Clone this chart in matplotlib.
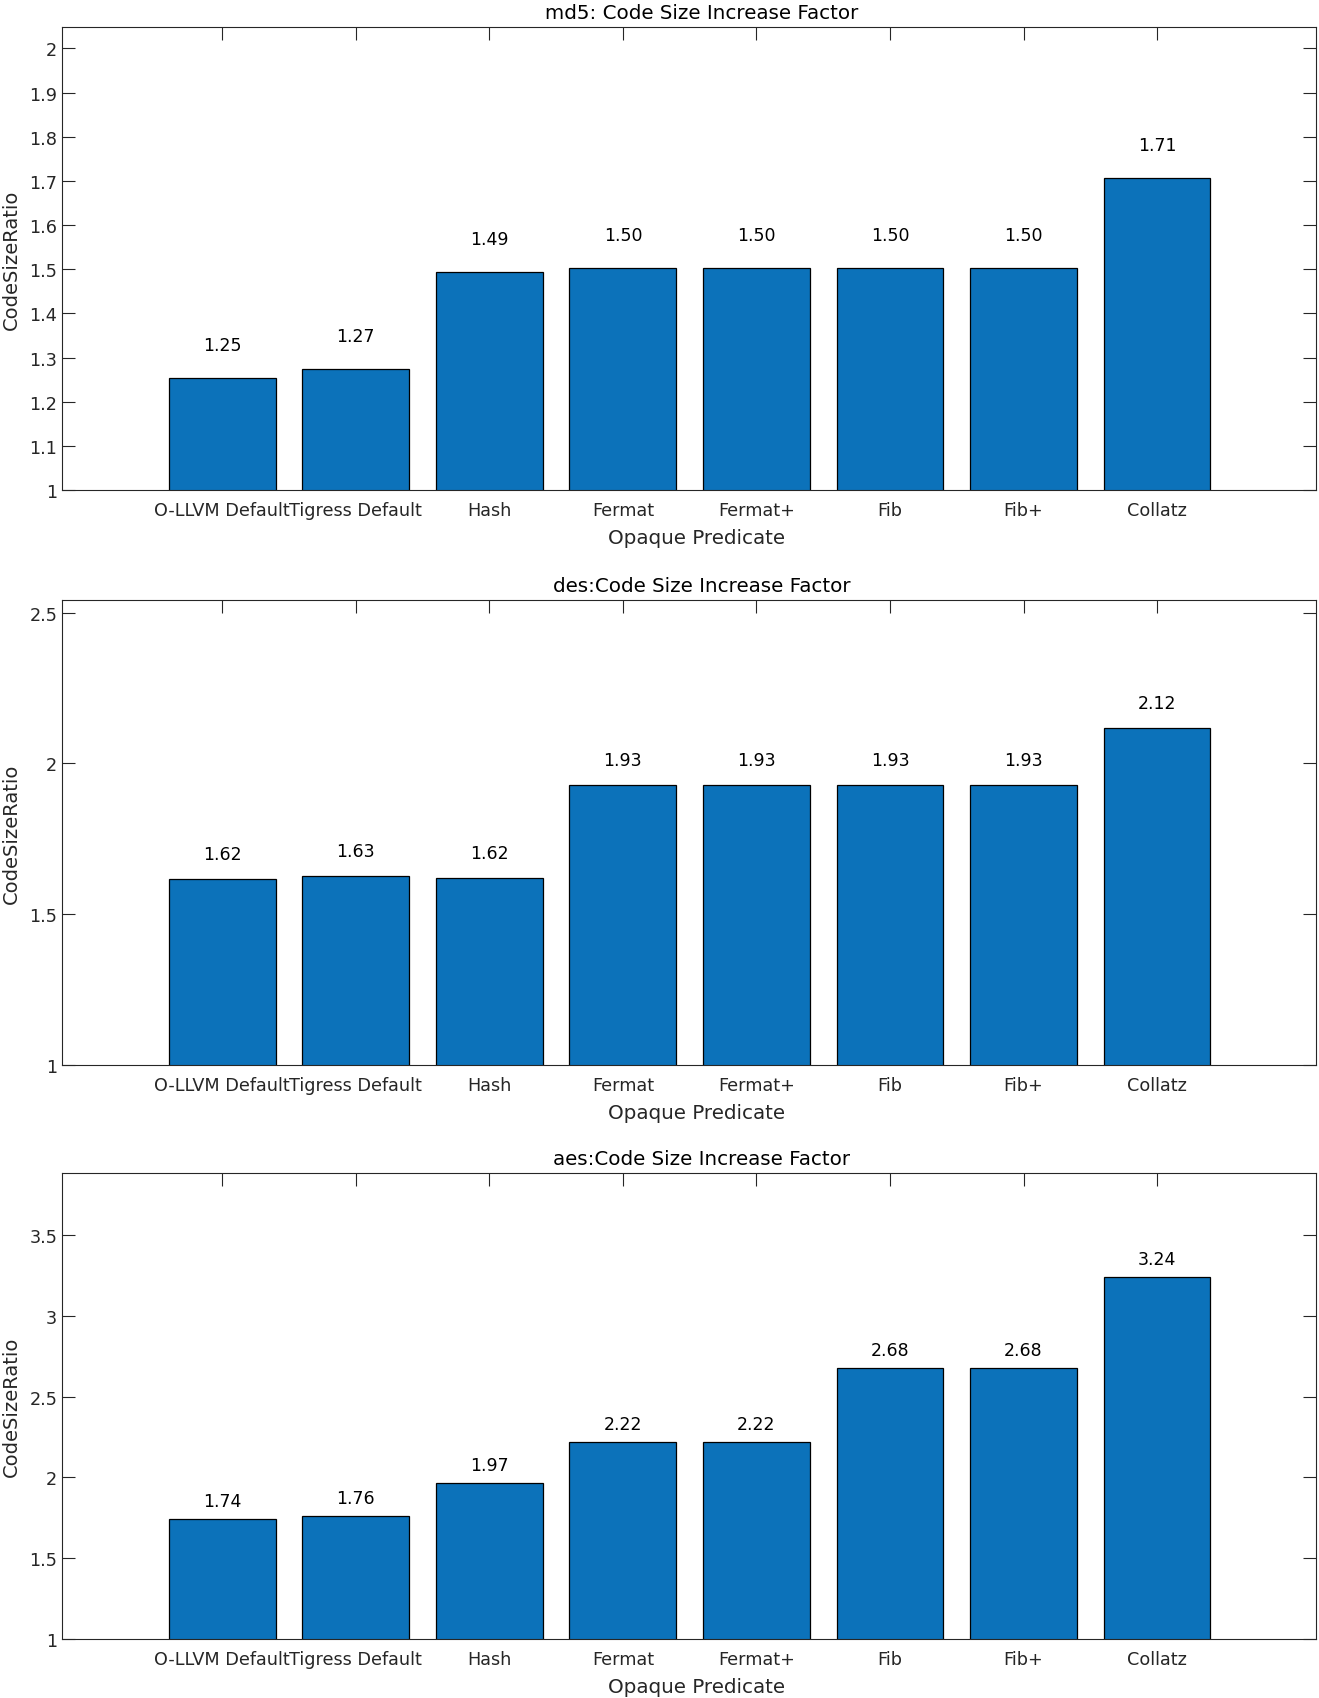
import matplotlib
matplotlib.use("Agg")
import matplotlib.pyplot as plt
import numpy as np

# opaque predicate categories
predicates = ['O-LLVM Default', 'Tigress Default', 'Hash', 'Fermat',
              'Fermat+', 'Fib', 'Fib+', 'Collatz']

# code size ratio per benchmark
md5_ratio = [1.254, 1.274, 1.494, 1.502, 1.502, 1.502, 1.502, 1.707]
des_ratio = [1.616, 1.626, 1.619, 1.927, 1.927, 1.927, 1.927, 2.117]
aes_ratio = [1.741, 1.761, 1.967, 2.221, 2.221, 2.679, 2.679, 3.238]

titles = ['md5: Code Size Increase Factor',
          'des:Code Size Increase Factor',
          'aes:Code Size Increase Factor']
yticks_list = [np.arange(1, 2.01, 0.1), np.arange(1, 2.51, 0.5), np.arange(1, 3.51, 0.5)]

bar_color = '#0C72BA'
axis_color = '#262626'

fig = plt.figure(figsize=(13.19, 16.99), dpi=100)
boxes = [(0.047, 0.711, 0.9507, 0.2725),
         (0.047, 0.3725, 0.9507, 0.2735),
         (0.047, 0.0347, 0.9507, 0.2745)]

x = np.arange(1, len(predicates) + 1)
for vals, title, box, yt in zip([md5_ratio, des_ratio, aes_ratio], titles, boxes, yticks_list):
    ax = fig.add_axes(box)
    ax.bar(x, vals, width=0.8, color=bar_color, edgecolor='black', linewidth=0.9, zorder=2)
    for xi, v in zip(x, vals):
        ax.text(xi, v + 0.055, '%.2f' % v,
                ha='center', va='bottom', fontsize=12.5, color='black')
    ax.set_xlim(-0.2, 9.19)
    ax.set_ylim(1, max(vals) * 1.2)
    ax.set_xticks(x)
    ax.set_xticklabels(predicates)
    ax.set_yticks(yt)
    ax.set_yticklabels(['%g' % t for t in yt])
    ax.tick_params(direction='in', length=9.4, width=0.8, color=axis_color,
                   labelcolor=axis_color, labelsize=12.7, top=True, right=True,
                   zorder=3)
    ax.tick_params(axis='x', pad=8)
    for sp in ax.spines.values():
        sp.set_color(axis_color)
        sp.set_linewidth(0.8)
        sp.set_zorder(4)
    ax.set_title(title, fontsize=14.3, color='black', pad=6.5, x=0.51)
    ax.set_xlabel('Opaque Predicate', fontsize=14.3, color=axis_color, labelpad=4)
    ax.xaxis.set_label_coords(0.506, -0.082)
    ax.set_ylabel('CodeSizeRatio', fontsize=14, color=axis_color, labelpad=6)

fig.savefig('out.png', dpi=100)
